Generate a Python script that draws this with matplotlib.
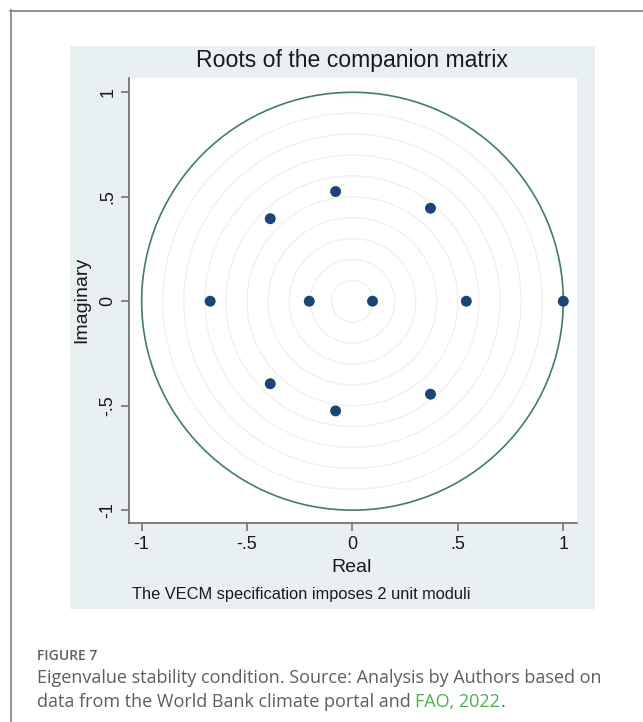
import matplotlib
matplotlib.use("Agg")
import matplotlib.pyplot as plt
import numpy as np
from matplotlib.patches import Rectangle, Circle
from matplotlib.lines import Line2D

# ---- data ----
real_parts = [1.0, 0.54, 0.095, -0.205, -0.675, -0.39, -0.39, -0.08, -0.08, 0.37, 0.37]
imag_parts = [0.0, 0.0, 0.0, 0.0, 0.0, 0.395, -0.395, 0.525, -0.525, 0.445, -0.445]
grid_radii = [0.1, 0.2, 0.3, 0.4, 0.5, 0.6, 0.7, 0.8, 0.9]
tick_values = [-1, -0.5, 0, 0.5, 1]
tick_labels = ["-1", "-.5", "0", ".5", "1"]

W, H = 643, 722
DPI = 100
fig = plt.figure(figsize=(W / DPI, H / DPI), dpi=DPI)
fig.patch.set_facecolor("white")

def fx(px):
    return px / W

def fy(py):
    return 1 - py / H

# outer frame (top and left)
fig.add_artist(Line2D([fx(10), 1.0], [fy(10.5), fy(10.5)], color="#959595", lw=1.4,
                      transform=fig.transFigure))
fig.add_artist(Line2D([fx(10.5), fx(10.5)], [fy(10), 0.0], color="#959595", lw=1.4,
                      transform=fig.transFigure))

# Stata graph region
fig.add_artist(Rectangle((fx(70), fy(609)), fx(595) - fx(70), fy(45.5) - fy(609),
                         transform=fig.transFigure, facecolor="#e9f0f2", edgecolor="none",
                         zorder=0))

ax = fig.add_axes([fx(129), fy(523.3), fx(577) - fx(129), fy(78.3) - fy(523.3)])
ax.set_facecolor("white")
ax.set_xlim(-1.060, 1.065)
ax.set_ylim(-1.063, 1.067)

for r in grid_radii:
    ax.add_patch(Circle((0, 0), r, fill=False, edgecolor="#f0f0f0", lw=1.0, zorder=1))
ax.add_patch(Circle((0, 0), 1.0, fill=False, edgecolor="#3f7d70", lw=1.2, zorder=2))

ax.scatter(real_parts, imag_parts, s=62, color="#1a4676", edgecolors="none", zorder=3)

for side in ["top", "right"]:
    ax.spines[side].set_visible(False)
for side in ["left", "bottom"]:
    ax.spines[side].set_color("#6a6a6a")
    ax.spines[side].set_linewidth(1.2)

ax.set_xticks(tick_values)
ax.set_xticklabels(tick_labels)
ax.set_yticks(tick_values)
ax.set_yticklabels(tick_labels, rotation=90, va="center")
ax.tick_params(axis="both", direction="out", length=6, width=1.1, color="#6a6a6a",
               labelsize=13, labelcolor="#1a1a1a", pad=3)
for lab in ax.get_xticklabels() + ax.get_yticklabels():
    lab.set_fontfamily("Liberation Sans")

fig.text(fx(352), fy(61), "Roots of the companion matrix", ha="center", va="center",
         fontsize=16.6, family="Liberation Sans", color="#1a1a1a")
fig.text(fx(352), fy(567), "Real", ha="center", va="center",
         fontsize=14, family="Liberation Sans", color="#1a1a1a")
fig.text(fx(82), fy(300), "Imaginary", ha="center", va="center", rotation=90,
         fontsize=14, family="Liberation Sans", color="#1a1a1a")
fig.text(fx(132), fy(594), "The VECM specification imposes 2 unit moduli", ha="left", va="center",
         fontsize=11.8, family="Liberation Sans", color="#1a1a1a")

# caption
cap_color = "#5e5e5e"
fig.text(fx(37), fy(656), "FIGURE 7", ha="left", va="center", fontsize=10,
         family="Open Sans", weight="semibold", color="#606060")
fig.text(fx(37), fy(678), "Eigenvalue stability condition. Source: Analysis by Authors based on",
         ha="left", va="center", fontsize=13.0, family="Open Sans", color=cap_color)
t2 = fig.text(fx(37), fy(702), "data from the World Bank climate portal and ",
              ha="left", va="center", fontsize=13.0, family="Open Sans", color=cap_color)
fig.canvas.draw()
bb = t2.get_window_extent()
t3 = fig.text(bb.x1 / W, fy(702), "FAO, 2022", ha="left", va="center", fontsize=13.0,
              family="Open Sans", color="#4cb050")
fig.canvas.draw()
bb3 = t3.get_window_extent()
fig.text(bb3.x1 / W, fy(702), ".", ha="left", va="center", fontsize=13.0,
         family="Open Sans", color=cap_color)

fig.savefig("out.png", dpi=DPI)
